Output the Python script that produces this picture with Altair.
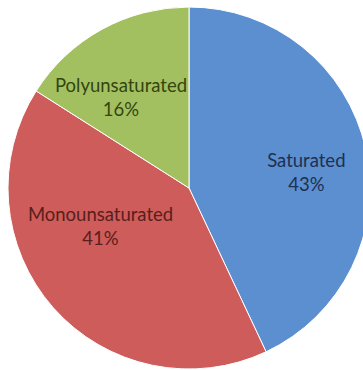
import altair as alt
import pandas as pd

categories = ["Saturated", "Monounsaturated", "Polyunsaturated"]
values = [43, 41, 16]
labels = ["43%", "41%", "16%"]
colors = ["#5B8FCF", "#CD5C5A", "#A3C061"]
text_colors = ["#1F3050", "#5A1E1C", "#34450F"]

df = pd.DataFrame({
    "cat": categories,
    "value": values,
    "pct": labels,
    "order": list(range(len(categories))),
})
df["label"] = df["cat"] + "\n" + df["pct"]

CX, CY, R = 189, 188, 181

base = alt.Chart(df).encode(
    theta=alt.Theta("value:Q", stack=True),
    order=alt.Order("order:Q"),
)

pie = base.mark_arc(stroke="white", strokeWidth=1).encode(
    x=alt.value(CX), y=alt.value(CY), radius=alt.value(R),
    color=alt.Color("cat:N", scale=alt.Scale(domain=categories, range=colors), legend=None),
)

offsets = {"Saturated": (10, -3), "Monounsaturated": (-6, -46), "Polyunsaturated": (-15, -6)}
layers = [pie]
for cat, tc in zip(categories, text_colors):
    dx, dy = offsets[cat]
    t = base.transform_calculate(
        lab=f"datum.cat == '{cat}' ? datum.label : ''"
    ).mark_text(
        font="Lato", fontSize=18.5, lineBreak="\n", lineHeight=24,
        align="center", baseline="middle", color=tc, dx=dx, dy=dy,
    ).encode(
        x=alt.value(CX), y=alt.value(CY), radius=alt.value(110),
        text="lab:N",
    )
    layers.append(t)

chart = alt.layer(*layers).properties(
    width=363, height=370, padding=0, autosize=alt.AutoSizeParams(type="none")
).configure_view(stroke=None)

chart.save("out.html", embed_options={"renderer": "svg", "actions": False})
